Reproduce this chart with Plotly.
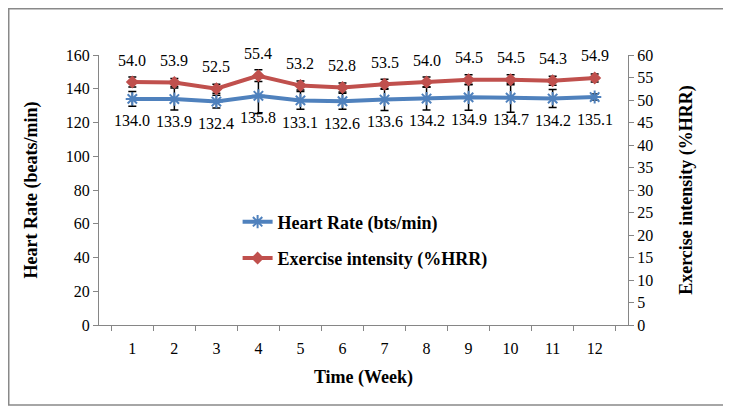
import plotly.graph_objects as go

weeks = [str(i) for i in range(1, 13)]
heart_rate = [134.0, 133.9, 132.4, 135.8, 133.1, 132.6, 133.6, 134.2, 134.9, 134.7, 134.2, 135.1]
heart_rate_err = [4.4, 6.5, 3.8, 10.4, 5.3, 4.7, 6.5, 6.8, 7.7, 8.6, 5.3, 1.8]
intensity = [54.0, 53.9, 52.5, 55.4, 53.2, 52.8, 53.5, 54.0, 54.5, 54.5, 54.3, 54.9]
intensity_err = [1.1, 0.9, 1.0, 1.3, 1.0, 1.0, 1.1, 1.1, 1.1, 1.1, 1.0, 0.9]

FONT = "Liberation Serif"
BLUE = "#4F81BD"
RED = "#C0504D"
AXIS = "#868686"

fig = go.Figure()
fig.add_trace(go.Scatter(
    x=weeks, y=heart_rate, name="Heart Rate (bts/min)", mode="lines+markers",
    line=dict(color=BLUE, width=4),
    marker=dict(symbol="asterisk-open", size=11, color=BLUE, line=dict(color=BLUE, width=2)),
    error_y=dict(type="data", array=heart_rate_err, color="black", thickness=1.5, width=4),
    legendgroup="a", yaxis="y",
))
fig.add_trace(go.Scatter(
    x=weeks, y=intensity, name="Exercise intensity (%HRR)", mode="lines+markers",
    line=dict(color=RED, width=4),
    marker=dict(symbol="diamond", size=10, color=RED),
    error_y=dict(type="data", array=intensity_err, color="black", thickness=1.5, width=4),
    legendgroup="b", yaxis="y2",
))

annotations = []
for i, v in enumerate(heart_rate):
    annotations.append(dict(x=i, y=v, xref="x", yref="y", text=f"{v:.1f}", showarrow=False,
                            yshift=-22, font=dict(family=FONT, size=16, color="black")))
for i, v in enumerate(intensity):
    annotations.append(dict(x=i, y=v, xref="x", yref="y2", text=f"{v:.1f}", showarrow=False,
                            yshift=22, font=dict(family=FONT, size=16, color="black")))

fig.update_layout(
    width=723, height=398,
    margin=dict(l=91, r=103, t=47, b=81),
    paper_bgcolor="white", plot_bgcolor="white",
    font=dict(family=FONT, size=16, color="black"),
    showlegend=True,
    legend=dict(x=0.262, y=0.45, xanchor="left", yanchor="top",
                font=dict(family=FONT, size=18, color="black", weight="bold"),
                bgcolor="rgba(0,0,0,0)", traceorder="grouped", tracegroupgap=10),
    annotations=annotations,
    xaxis=dict(type="category", tickson="boundaries", ticks="outside", ticklen=5,
               tickcolor=AXIS, showline=True, linecolor=AXIS, linewidth=1,
               showgrid=False, zeroline=False, ticklabelstandoff=9,
               tickfont=dict(family=FONT, size=16),
               title=dict(text="Time (Week)", standoff=14,
                          font=dict(family=FONT, size=18, weight="bold"))),
    yaxis=dict(range=[0, 160], dtick=20, ticks="outside", ticklen=5, tickcolor=AXIS,
               showline=True, linecolor=AXIS, linewidth=1, showgrid=False, zeroline=False,
               tickfont=dict(family=FONT, size=16),
               title=dict(text="Heart Rate (beats/min)", standoff=23,
                          font=dict(family=FONT, size=18, weight="bold"))),
    yaxis2=dict(range=[0, 60], dtick=5, overlaying="y", side="right", ticks="outside",
                ticklen=5, tickcolor=AXIS, showline=True, linecolor=AXIS, linewidth=1,
                showgrid=False, zeroline=False,
                tickfont=dict(family=FONT, size=16),
                title=dict(text="Exercise intensity (%HRR)", standoff=27,
                           font=dict(family=FONT, size=18, weight="bold"))),
    shapes=[dict(type="rect", xref="paper", yref="paper",
                 x0=-0.1706, x1=1.189, y0=-0.2963, y1=1.1713,
                 line=dict(color="#898989", width=1.5), fillcolor="rgba(0,0,0,0)", layer="below")],
)

fig.write_html("out.html")
